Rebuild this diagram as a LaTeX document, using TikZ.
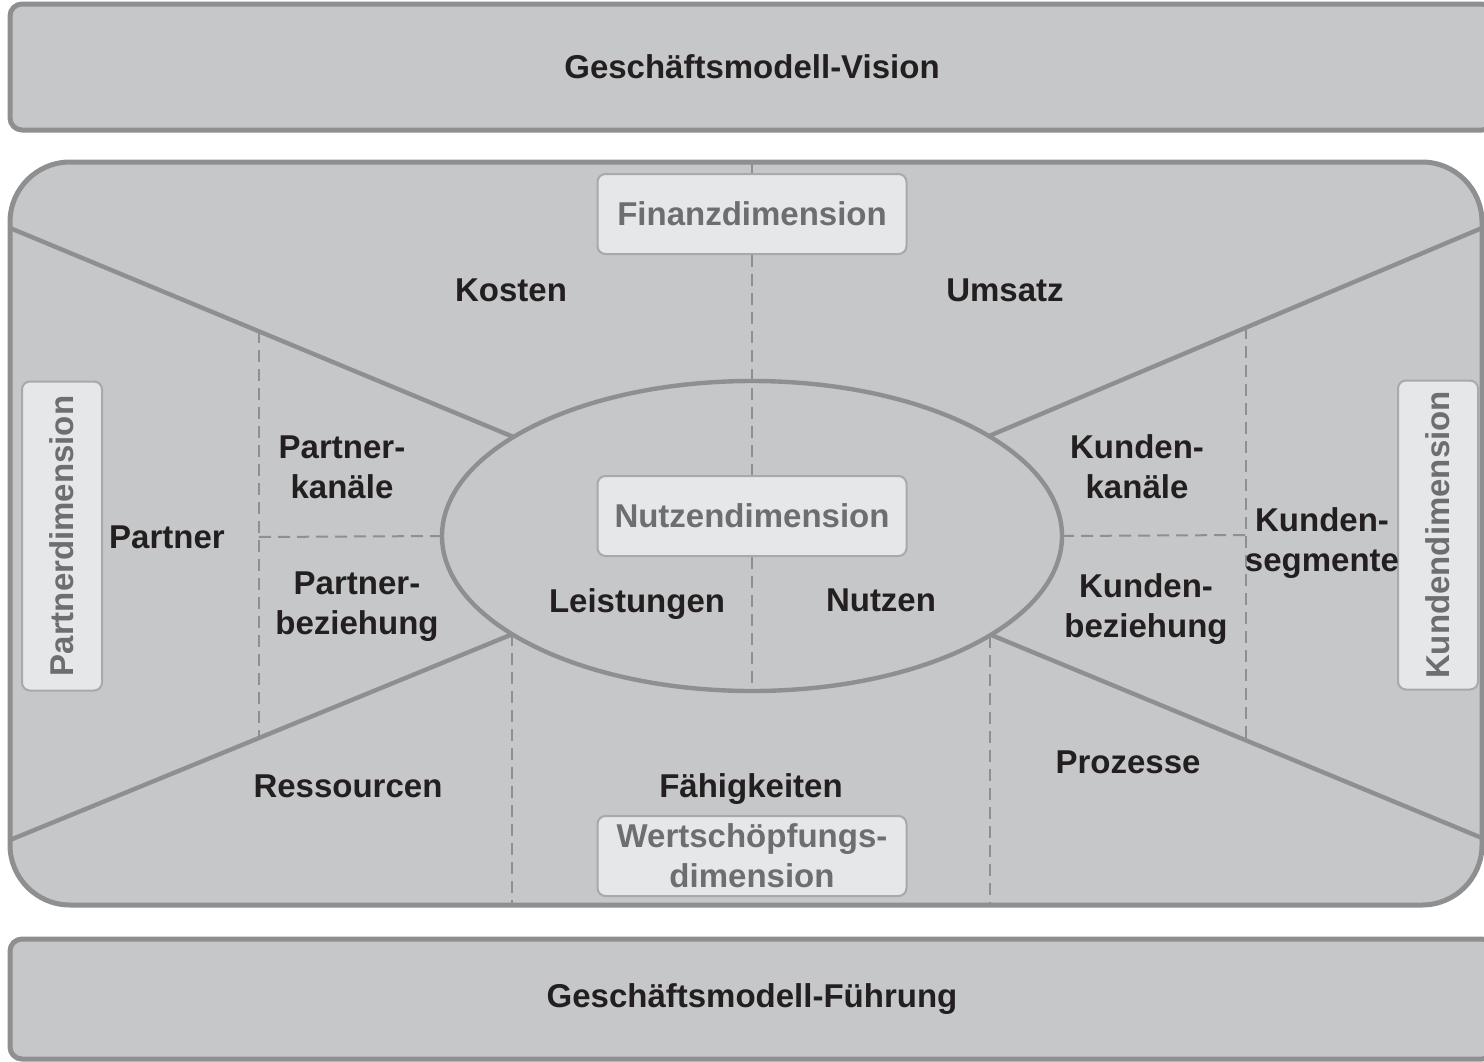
\documentclass[tikz,border=0pt]{standalone}
\usepackage{fontspec}
\setmainfont{Liberation Sans}
\usetikzlibrary{shapes.geometric,calc}

\definecolor{panelfill}{HTML}{C6C7C9}
\definecolor{panelline}{HTML}{8E8F91}
\definecolor{dimfill}{HTML}{E6E7E8}
\definecolor{dimline}{HTML}{A7A9AC}
\definecolor{dimtext}{HTML}{6D6E71}
\definecolor{itemtext}{HTML}{231F20}

\begin{document}
\begin{tikzpicture}[
  x=0.5pt, y=-0.5pt,
  every node/.style={font=\fontsize{16.5}{20}\selectfont\bfseries},
  panel/.style={draw=panelline, fill=panelfill, text=itemtext, line width=2.5pt,
                inner sep=0pt, outer sep=0pt},
  dimbox/.style={draw=dimline, fill=dimfill, text=dimtext, rounded corners=4pt,
                 line width=1pt, minimum width=154.5pt, minimum height=40pt,
                 inner sep=2pt, align=center},
  item/.style={text=itemtext, align=center, inner sep=0pt},
  boundary/.style={draw=panelline, line width=2.2pt},
  divider/.style={draw=panelline, line width=1pt, dash pattern=on 6pt off 3.5pt},
]
  \useasboundingbox (0,0) rectangle (1484,1061);

  % Vision and Fuehrung bands
  \node[panel, rounded corners=6pt, minimum width=742pt, minimum height=63pt]
    (vision) at (752,67) {Geschäftsmodell-Vision};
  \node[panel, rounded corners=6pt, minimum width=742pt, minimum height=60pt]
    (fuehrung) at (752,999) {Geschäftsmodell-Führung};

  % Main frame and core ellipse
  \node[panel, rounded corners=30pt, minimum width=736pt, minimum height=371.5pt]
    (frame) at (746,533.5) {};
  \node[ellipse, draw=panelline, fill=panelfill, line width=2.2pt, inner sep=0pt,
        outer sep=0pt, minimum width=310pt, minimum height=155pt]
    (core) at (752,536) {};

  % Diagonals from the frame to the ellipse
  \coordinate (tl) at (10,228);
  \coordinate (bl) at (10,840);
  \coordinate (tr) at (1482,228);
  \coordinate (br) at (1482,838);
  \draw[boundary] (tl) -- (core);
  \draw[boundary] (bl) -- (core);
  \draw[boundary] (tr) -- (core);
  \draw[boundary] (br) -- (core);

  % Dimension boxes
  \node[dimbox] (finanz) at (752,214) {Finanzdimension};
  \node[dimbox] (nutzdim) at (752,516) {Nutzendimension};
  \node[dimbox] (wert) at (752,856) {Wertschöpfungs-\\dimension};
  \node[dimbox, rotate=90] (partdim) at (62,536) {Partnerdimension};
  \node[dimbox, rotate=90] (kunddim) at (1438,535) {Kundendimension};

  % Dashed dividers
  \coordinate (ftop) at (752,164);
  \coordinate (plt) at (259,331);
  \coordinate (plb) at (259,739);
  \coordinate (pmid) at (259,537);
  \coordinate (krt) at (1246,327);
  \coordinate (krb) at (1246,740);
  \coordinate (kmid) at (1246,535);
  \coordinate (wl) at (512,634);
  \coordinate (wr) at (990,636);
  \draw[divider] (ftop) -- (finanz.north);
  \draw[divider] (finanz.south) -- (nutzdim.north);
  \draw[divider] (nutzdim.south) -- (core.south);
  \draw[divider] (plt) -- (plb);
  \draw[divider] (pmid) -- (core.west);
  \draw[divider] (krt) -- (krb);
  \draw[divider] (core.east) -- (kmid);
  \draw[divider] (wl) -- (wl |- frame.south);
  \draw[divider] (wr) -- (wr |- frame.south);

  % Building blocks
  \node[item] (kosten) at (511,290) {Kosten};
  \node[item] (umsatz) at (1005,290) {Umsatz};
  \node[item] (partner) at (167,537) {Partner};
  \node[item] (pkanaele) at (342,467) {Partner-\\kanäle};
  \node[item] (pbeziehung) at (357,607) {Partner-\\beziehung};
  \node[item] (leistungen) at (637,604) {Leistungen};
  \node[item] (nutzen) at (881,600) {Nutzen};
  \node[item] (kkanaele) at (1137,467) {Kunden-\\kanäle};
  \node[item] (ksegmente) at (1322,543) {Kunden-\\segmente};
  \node[item] (kbeziehung) at (1146,609) {Kunden-\\beziehung};
  \node[item] (ressourcen) at (348,786) {Ressourcen};
  \node[item] (faehigkeiten) at (751,789) {Fähigkeiten};
  \node[item] (prozesse) at (1128,762) {Prozesse};
\end{tikzpicture}
\end{document}
